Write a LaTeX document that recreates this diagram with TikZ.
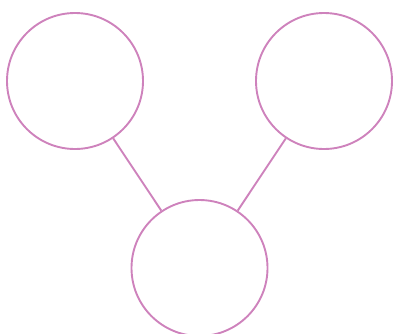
\documentclass[tikz,border=0pt]{standalone}
\usepackage{tikz}
\definecolor{orchid}{RGB}{206,130,188}
\tikzset{every picture/.style={line width=1.9pt}}

\begin{document}
\begin{tikzpicture}[x=1pt, y=-1pt, every node/.style={circle, draw=orchid, inner sep=0pt, minimum size=136pt}]
        \useasboundingbox (0,0) rectangle (393,333);
        \node (left)   at (75, 81)   {};
        \node (right)  at (324, 81)  {};
        \node (bottom) at (199.5, 268) {};
        \draw[orchid] (left) -- (bottom);
        \draw[orchid] (right) -- (bottom);
    \end{tikzpicture}
\end{document}
